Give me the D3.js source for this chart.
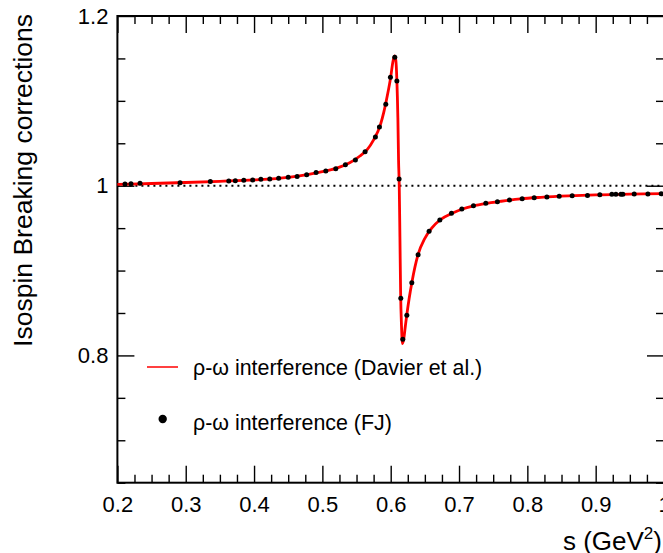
<!DOCTYPE html>
<html>
<head>
<meta charset="utf-8">
<script src="https://cdn.jsdelivr.net/npm/d3@7"></script>
<style>
  body { margin: 0; background: #fff; }
  svg { display: block; font-family: "Liberation Sans", Arial, Helvetica, sans-serif; }
</style>
</head>
<body>
<div id="chart"></div>
<script>
// FJ points (black dots)
const dotS = [0.2111, 0.2199, 0.2331, 0.2917, 0.336, 0.363, 0.3726, 0.385, 0.398, 0.410,
  0.423, 0.436, 0.450, 0.463, 0.477, 0.4908, 0.505, 0.5196, 0.5337, 0.5483,
  0.5625, 0.5776, 0.5835, 0.5928, 0.5996, 0.606, 0.609, 0.6123, 0.6148, 0.6177,
  0.6236, 0.6309, 0.6401, 0.6562, 0.6719, 0.6889, 0.7041, 0.7211, 0.7392, 0.7562,
  0.7738, 0.7924, 0.8100, 0.8286, 0.8466, 0.8656, 0.888, 0.9061, 0.9237, 0.9296,
  0.9369, 0.9398, 0.9564, 0.9764, 0.9959]
const dotV = [1.002, 1.0024, 1.0028, 1.0035, 1.0051, 1.0055, 1.0059, 1.0063, 1.0067, 1.0075,
  1.0079, 1.0087, 1.0099, 1.011, 1.013, 1.0155, 1.0173, 1.020, 1.0248, 1.0303,
  1.040, 1.0574, 1.0692, 1.0959, 1.1277, 1.1513, 1.1234, 1.0079, 0.8673, 0.819,
  0.8472, 0.8857, 0.9187, 0.9462, 0.9596, 0.9675, 0.9725, 0.9764, 0.9792, 0.9812,
  0.9831, 0.9847, 0.9859, 0.9867, 0.9875, 0.9882, 0.9886, 0.9894, 0.9898, 0.9898,
  0.9898, 0.9898, 0.9902, 0.9902, 0.9906]

// Davier et al. curve (red)
const curveS = [0.200, 0.250, 0.300, 0.350, 0.400, 0.450, 0.480, 0.500, 0.520, 0.540,
  0.555, 0.565, 0.575, 0.585, 0.590, 0.595, 0.600, 0.603, 0.6055, 0.6075,
  0.609, 0.6105, 0.6115, 0.6125, 0.6135, 0.6145, 0.6158, 0.6172, 0.619, 0.6215,
  0.6236, 0.627, 0.631, 0.640, 0.650, 0.660, 0.672, 0.690, 0.705, 0.720,
  0.740, 0.760, 0.790, 0.820, 0.860, 0.900, 0.950, 1.000]
const curveV = [1.0015, 1.0026, 1.0038, 1.0052, 1.0068, 1.0098, 1.0135, 1.0166, 1.0205, 1.027,
  1.035, 1.042, 1.054, 1.072, 1.087, 1.106, 1.128, 1.145, 1.153, 1.148,
  1.125, 1.08, 1.03, 1.0, 0.94, 0.875, 0.835, 0.814, 0.819, 0.835,
  0.848, 0.867, 0.886, 0.9187, 0.938, 0.950, 0.9596, 0.9675, 0.9725, 0.976,
  0.9792, 0.9815, 0.9845, 0.9863, 0.988, 0.9892, 0.990, 0.9907]

const xMajor = [0.2, 0.3, 0.4, 0.5, 0.6, 0.7, 0.8, 0.9, 1.0]
const yMajor = [0.8, 1.0, 1.2]
const legendLabels = ["ρ-ω interference (Davier et al.)", "ρ-ω interference (FJ)"]

const width = 663, height = 553
const mLeft = 117.4, mRight = 664, mTop = 16, mBottom = 482.7

const x = d3.scaleLinear().domain([0.2, 1.0]).range([mLeft, mRight])
const y = d3.scaleLinear().domain([0.65, 1.2]).range([mBottom, mTop])

const xMinor = d3.range(0.2, 1.0001, 0.025).filter(v => Math.abs(v * 10 - Math.round(v * 10)) > 1e-6)
const yMinor = d3.range(0.65, 1.2001, 0.05).filter(v => Math.abs(v * 5 - Math.round(v * 5)) > 1e-6)

const svg = d3.select("#chart").append("svg")
    .attr("width", width)
    .attr("height", height)

const fmt = d => Math.abs(d - 1) < 1e-9 ? "1" : d3.format(".1f")(d)

function styleAxis(g) {
  g.select(".domain").remove()
  g.selectAll(".tick line").attr("stroke", "#000").attr("stroke-width", 1.4)
  g.selectAll(".tick text").attr("fill", "#000").attr("font-size", 22)
    .attr("font-family", "Liberation Sans, Arial, Helvetica, sans-serif")
}

// bottom
svg.append("g").attr("transform", `translate(0,${mBottom})`)
    .call(d3.axisBottom(x).tickValues(xMajor).tickSize(-17).tickPadding(14).tickFormat(fmt))
    .call(styleAxis)
svg.append("g").attr("transform", `translate(0,${mBottom})`)
    .call(d3.axisBottom(x).tickValues(xMinor).tickSize(-8).tickFormat(""))
    .call(styleAxis)
// top
svg.append("g").attr("transform", `translate(0,${mTop})`)
    .call(d3.axisTop(x).tickValues(xMajor).tickSize(-17).tickFormat(""))
    .call(styleAxis)
svg.append("g").attr("transform", `translate(0,${mTop})`)
    .call(d3.axisTop(x).tickValues(xMinor).tickSize(-8).tickFormat(""))
    .call(styleAxis)
// left
svg.append("g").attr("transform", `translate(${mLeft},0)`)
    .call(d3.axisLeft(y).tickValues(yMajor).tickSize(-17).tickPadding(9).tickFormat(fmt))
    .call(styleAxis)
svg.append("g").attr("transform", `translate(${mLeft},0)`)
    .call(d3.axisLeft(y).tickValues(yMinor).tickSize(-8).tickFormat(""))
    .call(styleAxis)
// right
svg.append("g").attr("transform", `translate(${mRight},0)`)
    .call(d3.axisRight(y).tickValues(yMajor).tickSize(-17).tickFormat(""))
    .call(styleAxis)
svg.append("g").attr("transform", `translate(${mRight},0)`)
    .call(d3.axisRight(y).tickValues(yMinor).tickSize(-8).tickFormat(""))
    .call(styleAxis)

// frame
svg.append("rect")
    .attr("x", mLeft).attr("y", mTop)
    .attr("width", mRight - mLeft).attr("height", mBottom - mTop)
    .attr("fill", "none").attr("stroke", "#000").attr("stroke-width", 2)

// reference line at 1
svg.append("line")
    .attr("x1", x(0.2)).attr("x2", x(1.0))
    .attr("y1", y(1)).attr("y2", y(1))
    .attr("stroke", "#000").attr("stroke-width", 2)
    .attr("stroke-dasharray", "2,4")

// red curve
const line = d3.line()
    .x(i => x(curveS[i]))
    .y(i => y(curveV[i]))
    .curve(d3.curveMonotoneX)

svg.append("path")
    .attr("fill", "none")
    .attr("stroke", "#ff0000")
    .attr("stroke-width", 2.8)
    .attr("stroke-linejoin", "round")
    .attr("d", line(d3.range(curveS.length)))

// dots
svg.append("g").selectAll("circle")
  .data(d3.range(dotS.length))
  .join("circle")
    .attr("cx", i => x(dotS[i]))
    .attr("cy", i => y(dotV[i]))
    .attr("r", 2.5)
    .attr("fill", "#000")

// legend
const leg = svg.append("g")
leg.append("line")
    .attr("x1", 147).attr("x2", 178).attr("y1", 367).attr("y2", 367)
    .attr("stroke", "#ff0000").attr("stroke-width", 1.5)
leg.append("text").attr("x", 193).attr("y", 375)
    .attr("font-size", 21.4).text(legendLabels[0])
leg.append("circle").attr("cx", 162.7).attr("cy", 419).attr("r", 4.2).attr("fill", "#000")
leg.append("text").attr("x", 193).attr("y", 430)
    .attr("font-size", 21.4).text(legendLabels[1])

// axis titles
const xt = svg.append("text")
    .attr("x", 662).attr("y", 550)
    .attr("text-anchor", "end")
    .attr("font-size", 26)
xt.append("tspan").text("s (GeV")
xt.append("tspan").attr("dy", -11).attr("font-size", 17).text("2")
xt.append("tspan").attr("dy", 11).text(")")

svg.append("text")
    .attr("transform", "translate(32,14) rotate(-90)")
    .attr("text-anchor", "end")
    .attr("font-size", 26.5)
    .text("Isospin Breaking corrections")
</script>
</body>
</html>
